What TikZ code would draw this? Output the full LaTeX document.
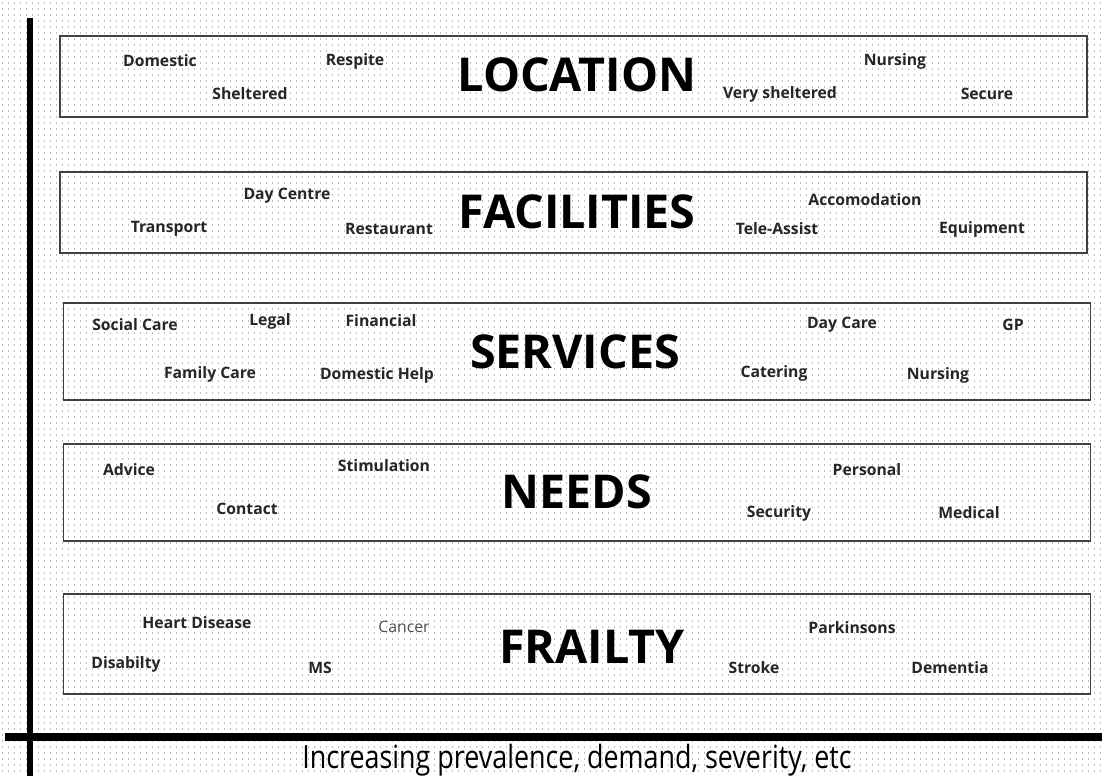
\documentclass[tikz,border=0pt]{standalone}
\usepackage{fontspec}
\setmainfont{Open Sans}
\usetikzlibrary{positioning}

\tikzset{
    band/.style={draw=black!75, line width=1.1pt, fill=none, minimum width=770pt},
    heading/.style={font=\fontsize{35}{37}\selectfont\bfseries},
    item/.style={font=\fontsize{11.8}{13}\selectfont\bfseries, text=black!85},
    axis/.style={line width=5pt, black}
}

\begin{document}
\begin{tikzpicture}[x=0.75pt, y=-0.75pt]
    \useasboundingbox (0,0) rectangle (1102,776);
    \fill[white] (0,0) rectangle (1102,776);
    % dotted paper
    \foreach \r in {3,9,...,776}
        \draw[black!25, line width=0.8pt, dash pattern=on 0.8pt off 3.7pt] (2,\r) -- (1102,\r);

    % axes
    \coordinate (vtop) at (30,18);
    \coordinate (vbot) at (30,776);
    \coordinate (hleft) at (5,737);
    \coordinate (hright) at (1102,737);
    \draw[axis] (vtop) -- (vbot);
    \draw[axis, line width=6pt] (hleft) -- (hright);

    % location
    \node[band, minimum height=60.75pt] (loc) at (573.5,76.5) {};
    \node[heading] (loct) at (577,75) {LOCATION};
    \node[item] (dom) at (160,61) {Domestic};
    \node[item] (shel) at (250,94) {Sheltered};
    \node[item] (resp) at (355,61) {Respite};
    \node[item] (vshel) at (780,94) {Very sheltered};
    \node[item] (nurs) at (895,61) {Nursing};
    \node[item] (sec) at (987,94) {Secure};

    % facilities
    \node[band, minimum height=60.75pt] (fac) at (573.5,212.5) {};
    \node[heading] (fact) at (577,212) {FACILITIES};
    \node[item] (dayc) at (287,196) {Day Centre};
    \node[item] (trans) at (169,229) {Transport};
    \node[item] (rest) at (389,229) {Restaurant};
    \node[item] (acc) at (865,200) {Accomodation};
    \node[item] (tele) at (777,229) {Tele-Assist};
    \node[item] (equip) at (982,229) {Equipment};

    % services
    \node[band, minimum height=72.75pt] (serv) at (577,351.5) {};
    \node[heading] (servt) at (575,352) {SERVICES};
    \node[item] (soc) at (135,325) {Social Care};
    \node[item] (leg) at (270,321) {Legal};
    \node[item] (fin) at (381,321) {Financial};
    \node[item] (fam) at (210,374) {Family Care};
    \node[item] (domh) at (377,375) {Domestic Help};
    \node[item] (dcare) at (842,325) {Day Care};
    \node[item] (gp) at (1013,325) {GP};
    \node[item] (cat) at (774,373) {Catering};
    \node[item] (snurs) at (938,375) {Nursing};

    % needs
    \node[band, minimum height=72.75pt] (need) at (577,492.5) {};
    \node[heading] (needt) at (577,492) {NEEDS};
    \node[item] (adv) at (129,470) {Advice};
    \node[item] (stim) at (384,466) {Stimulation};
    \node[item] (cont) at (247,509) {Contact};
    \node[item] (pers) at (867,470) {Personal};
    \node[item] (secu) at (779,513) {Security};
    \node[item] (med) at (969,513) {Medical};

    % frailty
    \node[band, minimum height=75pt] (frail) at (577,644) {};
    \node[heading] (frailt) at (592,647) {FRAILTY};
    \node[item] (heart) at (197,623) {Heart Disease};
    \node[item, font=\fontsize{11.8}{13}\selectfont, text=black!70] (canc) at (404,627) {Cancer};
    \node[item] (disab) at (126,664) {Disabilty};
    \node[item] (ms) at (320,668) {MS};
    \node[item] (park) at (852,628) {Parkinsons};
    \node[item] (strk) at (754,668) {Stroke};
    \node[item] (dem) at (950,668) {Dementia};

    % bottom caption
    \node[font=\fontsize{24}{26}\selectfont] (cap) at (577,760)
        {\scalebox{0.84}[1]{Increasing prevalence, demand, severity, etc}};
\end{tikzpicture}
\end{document}
